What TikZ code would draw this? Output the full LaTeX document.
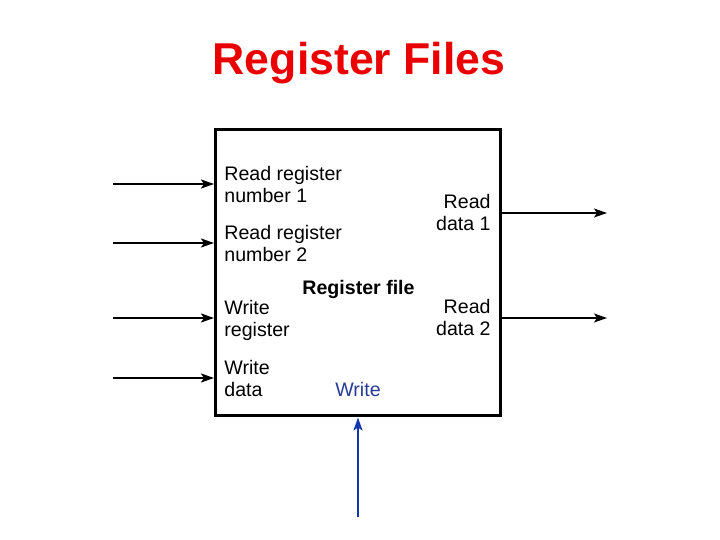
\documentclass[tikz,border=0pt]{standalone}
\usepackage{fontspec}
\setmainfont{Liberation Sans}
\usepackage{xcolor}
\usetikzlibrary{arrows.meta, positioning, calc}
\definecolor{titlered}{RGB}{235,0,0}
\definecolor{wrblue}{RGB}{20,55,175}
\definecolor{wrtext}{RGB}{40,60,150}

\begin{document}
\begin{tikzpicture}[
    x=0.5pt, y=-0.5pt,
    title/.style={anchor=base, inner sep=0pt, text=titlered, font=\fontsize{22.3}{26}\selectfont\bfseries},
    regbox/.style={rectangle, draw=black, line width=1.5pt, minimum width=142.5pt, minimum height=143pt, inner sep=0pt},
    lbl/.style={inner sep=0pt, align=left, font=\fontsize{9.8}{11.2}\selectfont},
    rlbl/.style={inner sep=0pt, align=right, anchor=north east, font=\fontsize{9.8}{11.2}\selectfont},
    inarrow/.style={line width=1pt, -{Stealth[length=6.5pt,width=4.5pt,inset=1.5pt]}},
    outarrow/.style={line width=0.6pt, -{Stealth[length=6.5pt,width=4.5pt,inset=1.5pt]}},
    wrarrow/.style={line width=1pt, draw=wrblue, -{Stealth[length=6.5pt,width=4.5pt,inset=1.5pt]}}
]
\useasboundingbox (0,0) rectangle (720,540);

% Title
\node[title] (ttl) at (359,75) {Register Files};

% Register file block
\node[regbox] (rf) at (358,273) {};

% Port labels
\node[lbl, anchor=north west] (rr1) at (224,165.5) {Read register\\number 1};
\node[lbl, anchor=north west] (rr2) at (224,225) {Read register\\number 2};
\node[lbl, anchor=north west] (wreg) at (224,299.5) {Write\\register};
\node[lbl, anchor=north west] (wdat) at (224,360) {Write\\data};
\node[rlbl] (rd1) at (491,194) {Read\\data 1};
\node[rlbl] (rd2) at (491,298.5) {Read\\data 2};
\node[inner sep=0pt, anchor=base, font=\fontsize{9.8}{11.2}\selectfont\bfseries] (rfname) at (358.5,295) {Register file};
\node[inner sep=0pt, anchor=base, text=wrtext, font=\fontsize{9.8}{11.2}\selectfont] (wrlbl) at (358,397) {Write};

% Free ends
\coordinate (i1) at (113,184);
\coordinate (i2) at (113,243);
\coordinate (i3) at (113,318);
\coordinate (i4) at (113,378);
\coordinate (o1) at (607,213);
\coordinate (o2) at (607,318);
\coordinate (w) at (358,517);

% Edges
\draw[inarrow] (i1) -- (i1 -| rf.west);
\draw[inarrow] (i2) -- (i2 -| rf.west);
\draw[inarrow] (i3) -- (i3 -| rf.west);
\draw[inarrow] (i4) -- (i4 -| rf.west);
\draw[outarrow] (o1 -| rf.east) -- (o1);
\draw[outarrow] (o2 -| rf.east) -- (o2);
\draw[wrarrow] (w) -- (w |- rf.south);

\end{tikzpicture}
\end{document}
